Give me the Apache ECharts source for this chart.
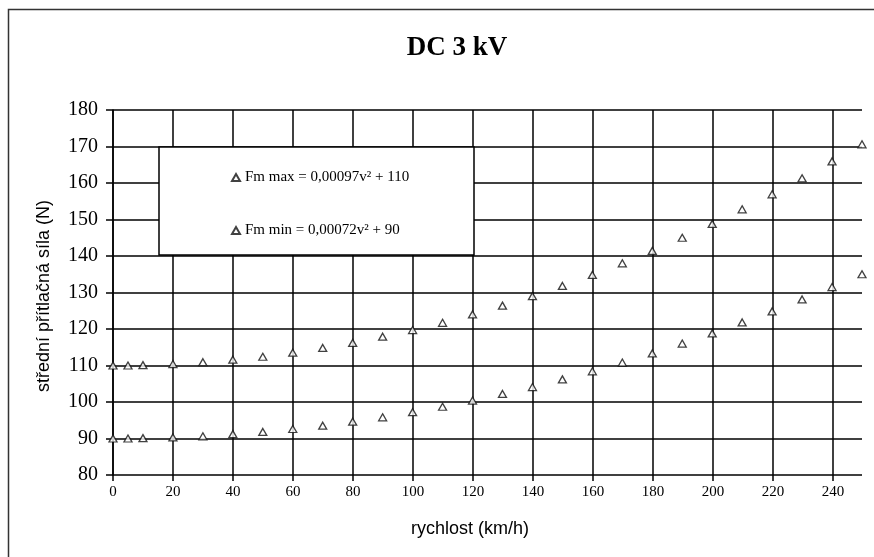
<!DOCTYPE html>
<html>
<head>
<meta charset="utf-8">
<script src="https://cdn.jsdelivr.net/npm/echarts@6/dist/echarts.min.js"></script>
<style>html,body{margin:0;padding:0;background:#fff;}#c{width:874px;height:557px;}</style>
</head>
<body>
<div id="c"></div>
<script>
var speeds = [0, 5, 10, 20, 30, 40, 50, 60, 70, 80, 90, 100, 110, 120, 130, 140, 150, 160, 170, 180, 190, 200, 210, 220, 230, 240, 250];
var fmMax = [110, 110, 110.1, 110.4, 110.9, 111.6, 112.4, 113.5, 114.8, 116.2, 117.9, 119.7, 121.7, 124.0, 126.4, 129.0, 131.8, 134.8, 138.0, 141.4, 145.0, 148.8, 152.8, 156.9, 161.3, 165.9, 170.6];
var fmMin = [90, 90, 90.1, 90.3, 90.6, 91.2, 91.8, 92.6, 93.5, 94.6, 95.8, 97.2, 98.7, 100.4, 102.2, 104.1, 106.2, 108.4, 110.8, 113.3, 116.0, 118.8, 121.8, 124.8, 128.1, 131.5, 135.0];
var seriesNames = ['Fm max = 0,00097v² + 110', 'Fm min = 0,00072v² + 90'];
var titleText = 'DC 3 kV';
var xName = 'rychlost (km/h)';
var yName = 'střední přítlačná síla (N)';

function pairs(xs, ys) { return xs.map(function (x, i) { return [x, ys[i]]; }); }

var chart = echarts.init(document.getElementById('c'), null, { renderer: 'canvas' });
var serif = 'Liberation Serif';
var sans = 'Liberation Sans';
var markerStyle = { color: '#fff', borderColor: '#111', borderWidth: 1.3 };
chart.setOption({
  animation: false,
  backgroundColor: '#fff',
  title: {
    text: titleText, left: 452, top: 30, textAlign: 'center',
    textStyle: { fontFamily: serif, fontWeight: 'bold', fontSize: 27, color: '#000' }
  },
  grid: [
    { left: 113, top: 110, right: 12, bottom: 82 },
    { left: 113, top: 110, width: 720, bottom: 82 }
  ],
  xAxis: [
    { type: 'value', gridIndex: 0, min: 0, max: 250, show: false },
    {
      type: 'value', gridIndex: 1, min: 0, max: 240, interval: 20,
      axisLine: { show: false },
      axisTick: { show: true, length: 6, lineStyle: { color: '#000', width: 1.5 } },
      axisLabel: { fontFamily: serif, fontSize: 15, color: '#000', margin: 10 },
      splitLine: { show: true, lineStyle: { color: '#000', width: 1.5 } }
    }
  ],
  yAxis: [
    {
      type: 'value', gridIndex: 0, min: 80, max: 180, interval: 10,
      axisLine: { show: true, lineStyle: { color: '#000', width: 1.5 } },
      axisTick: { show: true, length: 7, lineStyle: { color: '#000', width: 1.5 } },
      axisLabel: { fontFamily: serif, fontSize: 20, color: '#000', margin: 15 },
      splitLine: { show: true, lineStyle: { color: '#000', width: 1.5 } }
    },
    { type: 'value', gridIndex: 1, min: 80, max: 180, show: false }
  ],
  legend: {
    orient: 'vertical', left: 226, top: 165, itemGap: 38, z: 100,
    icon: 'triangle', itemWidth: 8, itemHeight: 7,
    textStyle: { fontFamily: serif, fontSize: 15, color: '#000' },
    data: seriesNames
  },
  graphic: [
    { type: 'rect', z: 0, silent: true, shape: { x: 8.5, y: 9.5, width: 900, height: 600 }, style: { fill: 'none', stroke: '#333', lineWidth: 1.5 } },
    { type: 'rect', z: 50, silent: true, shape: { x: 159, y: 147, width: 315, height: 108 }, style: { fill: '#fff', stroke: '#000', lineWidth: 1.5 } },
    { type: 'text', z: 50, x: 470, y: 529, style: { text: xName, fontFamily: sans, fontSize: 18, fill: '#000', align: 'center', verticalAlign: 'middle' } },
    { type: 'text', z: 50, x: 44, y: 296, rotation: Math.PI / 2, style: { text: yName, fontFamily: sans, fontSize: 18, fill: '#000', align: 'center', verticalAlign: 'middle' } }
  ],
  series: [
    { name: seriesNames[0], type: 'scatter', xAxisIndex: 0, yAxisIndex: 0, symbol: 'triangle', symbolSize: [8, 7], itemStyle: markerStyle, data: pairs(speeds, fmMax) },
    { name: seriesNames[1], type: 'scatter', xAxisIndex: 0, yAxisIndex: 0, symbol: 'triangle', symbolSize: [8, 7], itemStyle: markerStyle, data: pairs(speeds, fmMin) }
  ]
});
</script>
</body>
</html>
